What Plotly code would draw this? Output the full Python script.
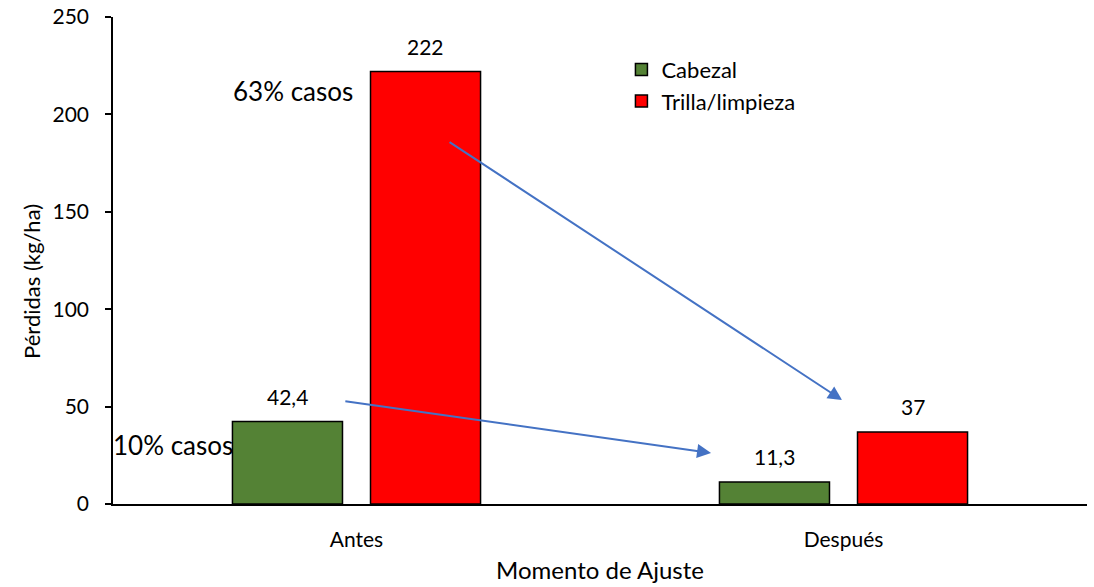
import plotly.graph_objects as go

categories = ["Antes", "Después"]
cabezal = [42.4, 11.3]
trilla = [222, 37]
cabezal_labels = ["42,4", "11,3"]
trilla_labels = ["222", "37"]
y_ticks = [0, 50, 100, 150, 200, 250]

FONT = "Lato"

fig = go.Figure()
fig.add_trace(go.Bar(name="Cabezal", x=categories, y=cabezal,
                     marker=dict(color="#548235", line=dict(color="black", width=1.5)),
                     legendgroup="a"))
fig.add_trace(go.Bar(name="Trilla/limpieza", x=categories, y=trilla,
                     marker=dict(color="#FF0000", line=dict(color="black", width=1.5)),
                     legendgroup="b"))

annotations = []
for i, c in enumerate(categories):
    annotations.append(dict(x=c, y=cabezal[i], text=cabezal_labels[i], showarrow=False,
                            xshift=-69, yshift=25, font=dict(size=21, color="black")))
    annotations.append(dict(x=c, y=trilla[i], text=trilla_labels[i], showarrow=False,
                            xshift=69, yshift=25, font=dict(size=21, color="black")))

# arrows
annotations.append(dict(x=0.997, y=53.4, ax=0.188, ay=186.3, xref="x", yref="y",
                        axref="x", ayref="y", showarrow=True, arrowhead=2, arrowsize=1.4,
                        arrowwidth=2, arrowcolor="#4472C4", text=""))
annotations.append(dict(x=0.728, y=26.2, ax=-0.026, ay=52.9, xref="x", yref="y",
                        axref="x", ayref="y", showarrow=True, arrowhead=2, arrowsize=1.4,
                        arrowwidth=2, arrowcolor="#4472C4", text=""))
# text notes
annotations.append(dict(x=-0.003, y=212, xref="x", yref="y", text="63% casos",
                        showarrow=False, xanchor="right", font=dict(size=26, color="black")))
annotations.append(dict(x=-0.25, y=30.3, xref="x", yref="y", text="10% casos",
                        showarrow=False, xanchor="right", font=dict(size=26, color="black")))
# y-axis title (placed as Excel does, slightly below centre)
annotations.append(dict(x=-0.0832, y=0.458, xref="paper", yref="paper",
                        text="Pérdidas (kg/ha)", textangle=-90, showarrow=False,
                        xanchor="center", yanchor="middle",
                        font=dict(size=22, color="black")))

fig.update_layout(
    width=1094, height=587,
    margin=dict(l=113, r=7, t=17, b=83),
    paper_bgcolor="white", plot_bgcolor="white",
    font=dict(family=FONT, color="black"),
    barmode="group", bargap=0.433, bargroupgap=0.203,
    showlegend=True,
    legend=dict(x=0.522, y=0.935, xanchor="left", yanchor="top",
                font=dict(size=22, color="black"), tracegroupgap=32,
                bgcolor="rgba(0,0,0,0)", traceorder="normal", itemwidth=30),
    annotations=annotations,
)
fig.update_xaxes(
    range=[-0.5, 1.5], showline=True, linecolor="black", linewidth=1.5,
    ticks="", tickfont=dict(size=21, color="black"), ticklabelstandoff=16,
    title=dict(text="Momento de Ajuste", font=dict(size=24, color="black"), standoff=12),
    showgrid=False, fixedrange=True, automargin=False,
)
fig.update_yaxes(
    range=[0, 250], tickvals=y_ticks, showline=True, linecolor="black", linewidth=1.5,
    ticks="outside", ticklen=6, tickcolor="black", tickwidth=1.5,
    tickfont=dict(size=21, color="black"), ticklabelstandoff=12,
    ticklabeloverflow="allow", automargin=False,
    showgrid=False, zeroline=False,
)

fig.write_html("out.html", config={"displayModeBar": False},
               post_script="document.body.style.margin='0';document.body.style.overflow='hidden';")
